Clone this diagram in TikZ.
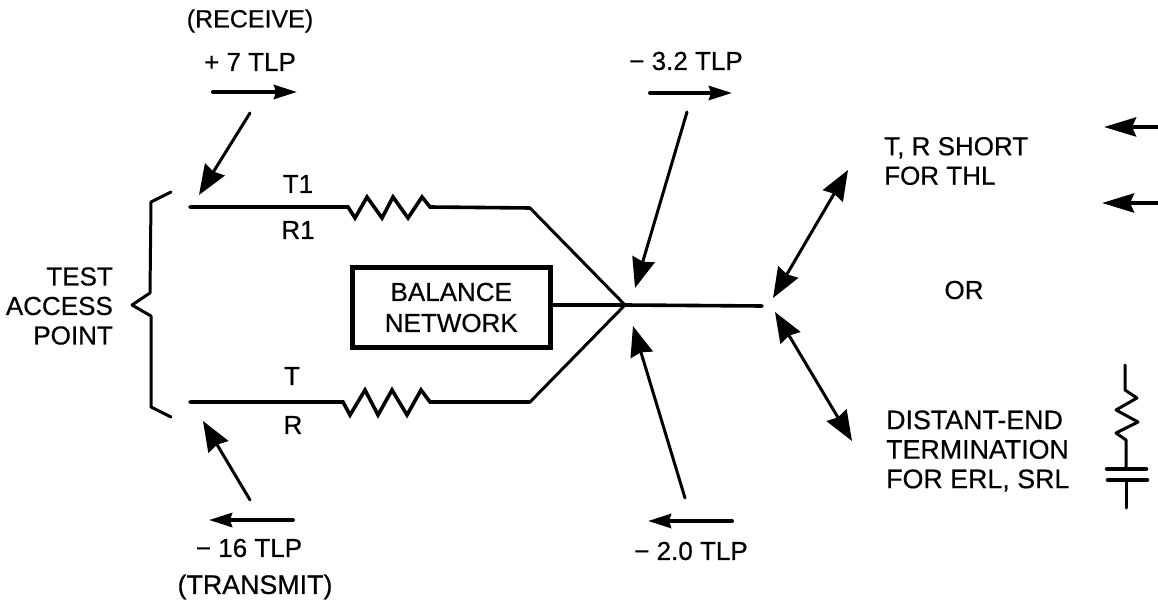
\documentclass[tikz,border=0pt]{standalone}
\usepackage{fontspec}
\setmainfont{Liberation Sans}[FakeBold=0.5]
\usetikzlibrary{arrows.meta}
\tikzset{
 lbl/.style={font=\fontsize{26}{29.5}\selectfont, align=center, inner sep=0pt},
 lblbig/.style={lbl,font=\fontsize{26.8}{29.5}\selectfont},
 wire/.style={line width=3.6pt,line join=miter,line cap=round},
 thin wire/.style={line width=3pt},
 arr/.style={line width=3pt,line cap=round,-{Stealth[length=30pt,width=23pt,inset=2.5pt]}},
 arrb/.style={line width=3pt,{Stealth[length=30pt,width=23pt,inset=2.5pt]}-{Stealth[length=30pt,width=23pt,inset=2.5pt]}},
 arrs/.style={line width=4pt,line cap=round,-{Stealth[length=23pt,width=14pt,inset=2pt]}},
 arrl/.style={line width=4pt,-{Stealth[length=32pt,width=19pt,inset=4pt]}},
 netbox/.style={draw,line width=5pt,minimum width=197.5pt,minimum height=79pt,lbl,font=\fontsize{26}{31}\selectfont},
 rc/.style={line width=3pt,line join=round,line cap=round},
 plate/.style={line width=4.5pt,line cap=round},
 bracel/.style={line width=3pt,line join=round,line cap=round},
}
\begin{document}
\begin{tikzpicture}[x=1pt,y=-1pt]
\useasboundingbox[fill=white] (0,0) rectangle (1158,601);
% labels
\node[lbl,font=\fontsize{25}{29}\selectfont] (rcv) at (250,21) {(RECEIVE)};
\node[lbl] (p7) at (250,62) {+ 7 TLP};
\node[lbl] (m32) at (686,61) {− 3.2 TLP};
\node[lbl] (t1) at (298,184) {T1};
\node[lbl] (r1) at (298,230) {R1};
\node[lbl] (t) at (292,376) {T};
\node[lbl] (r) at (293,425) {R};
\node[lbl,align=right,anchor=east] (tap) at (113,306) {TEST\\ACCESS\\POINT};
\node[lbl] (m16) at (249,548) {− 16 TLP};
\node[lblbig] (xmt) at (255,587) {(TRANSMIT)};
\node[lbl] (m2) at (691,551) {− 2.0 TLP};
\node[lbl,align=left,anchor=west] (sh) at (884,161) {T, R SHORT\\FOR THL};
\node[lbl] (or) at (964,290) {OR};
\node[lblbig,align=left,anchor=west] (de) at (886,451) {DISTANT-END\\TERMINATION\\FOR ERL, SRL};
% box
\node[netbox] (bn) at (451.25,307.5) {BALANCE\\NETWORK};
% junction
\coordinate (j) at (625,305);
\coordinate (je) at (762,306);
\coordinate (ts) at (190,207);
\coordinate (bs) at (190,402);
\draw[wire] (ts) -- (348,207) -- (355,218) -- (367,197) -- (382,218) -- (393,197) -- (408,218) -- (422,197) -- (430,207) -- (530,208);
\draw[thin wire] (530,208) -- (j) -- (530,402);
\draw[wire] (bs) -- (343,402) -- (350,415) -- (365,390) -- (378,415) -- (392,390) -- (407,415) -- (421,390) -- (430,402) -- (530,402);
\draw[wire] (bn.east |- j) -- (j) -- (je);
% brace
\draw[bracel] (171,192) -- (151,202) -- (150,293) -- (132,305) -- (151,316) -- (151,407) -- (171,417);
% arrows
\coordinate (a1) at (213,92); \coordinate (a1e) at (297,92);
\draw[arrs] (a1) -- (a1e);
\coordinate (a2) at (250,113); \coordinate (a2e) at (199,195);
\draw[arr] (a2) -- (a2e);
\coordinate (a3) at (650,93); \coordinate (a3e) at (732,93);
\draw[arrs] (a3) -- (a3e);
\coordinate (a4) at (687,112); \coordinate (a4e) at (635,288);
\draw[arr] (a4) -- (a4e);
\coordinate (a5) at (685,498); \coordinate (a5e) at (633,326);
\draw[arr] (a5) -- (a5e);
\coordinate (a6) at (732,521); \coordinate (a6e) at (648,521);
\draw[arrs] (a6) -- (a6e);
\coordinate (a7) at (293,520); \coordinate (a7e) at (209,520);
\draw[arrs] (a7) -- (a7e);
\coordinate (a8) at (250,500); \coordinate (a8e) at (203,421);
\draw[arr] (a8) -- (a8e);
\coordinate (a9) at (1158,127); \coordinate (a9e) at (1104,127);
\draw[arrl] (a9) -- (a9e);
\coordinate (a10) at (1158,203); \coordinate (a10e) at (1102,203);
\draw[arrl] (a10) -- (a10e);
\coordinate (b1) at (773,298); \coordinate (b1e) at (848,170);
\draw[arrb] (b1) -- (b1e);
\coordinate (b2) at (775,312); \coordinate (b2e) at (852,441);
\draw[arrb] (b2) -- (b2e);
% RC
\draw[rc] (1125,365) -- (1125,390) -- (1137,398) -- (1116,410) -- (1138,422) -- (1116,433) -- (1126,440) -- (1126,469);
\draw[plate] (1107,469) -- (1146,469) (1108,480) -- (1147,480);
\draw[rc] (1126,480) -- (1126,508);
\end{tikzpicture}
\end{document}
